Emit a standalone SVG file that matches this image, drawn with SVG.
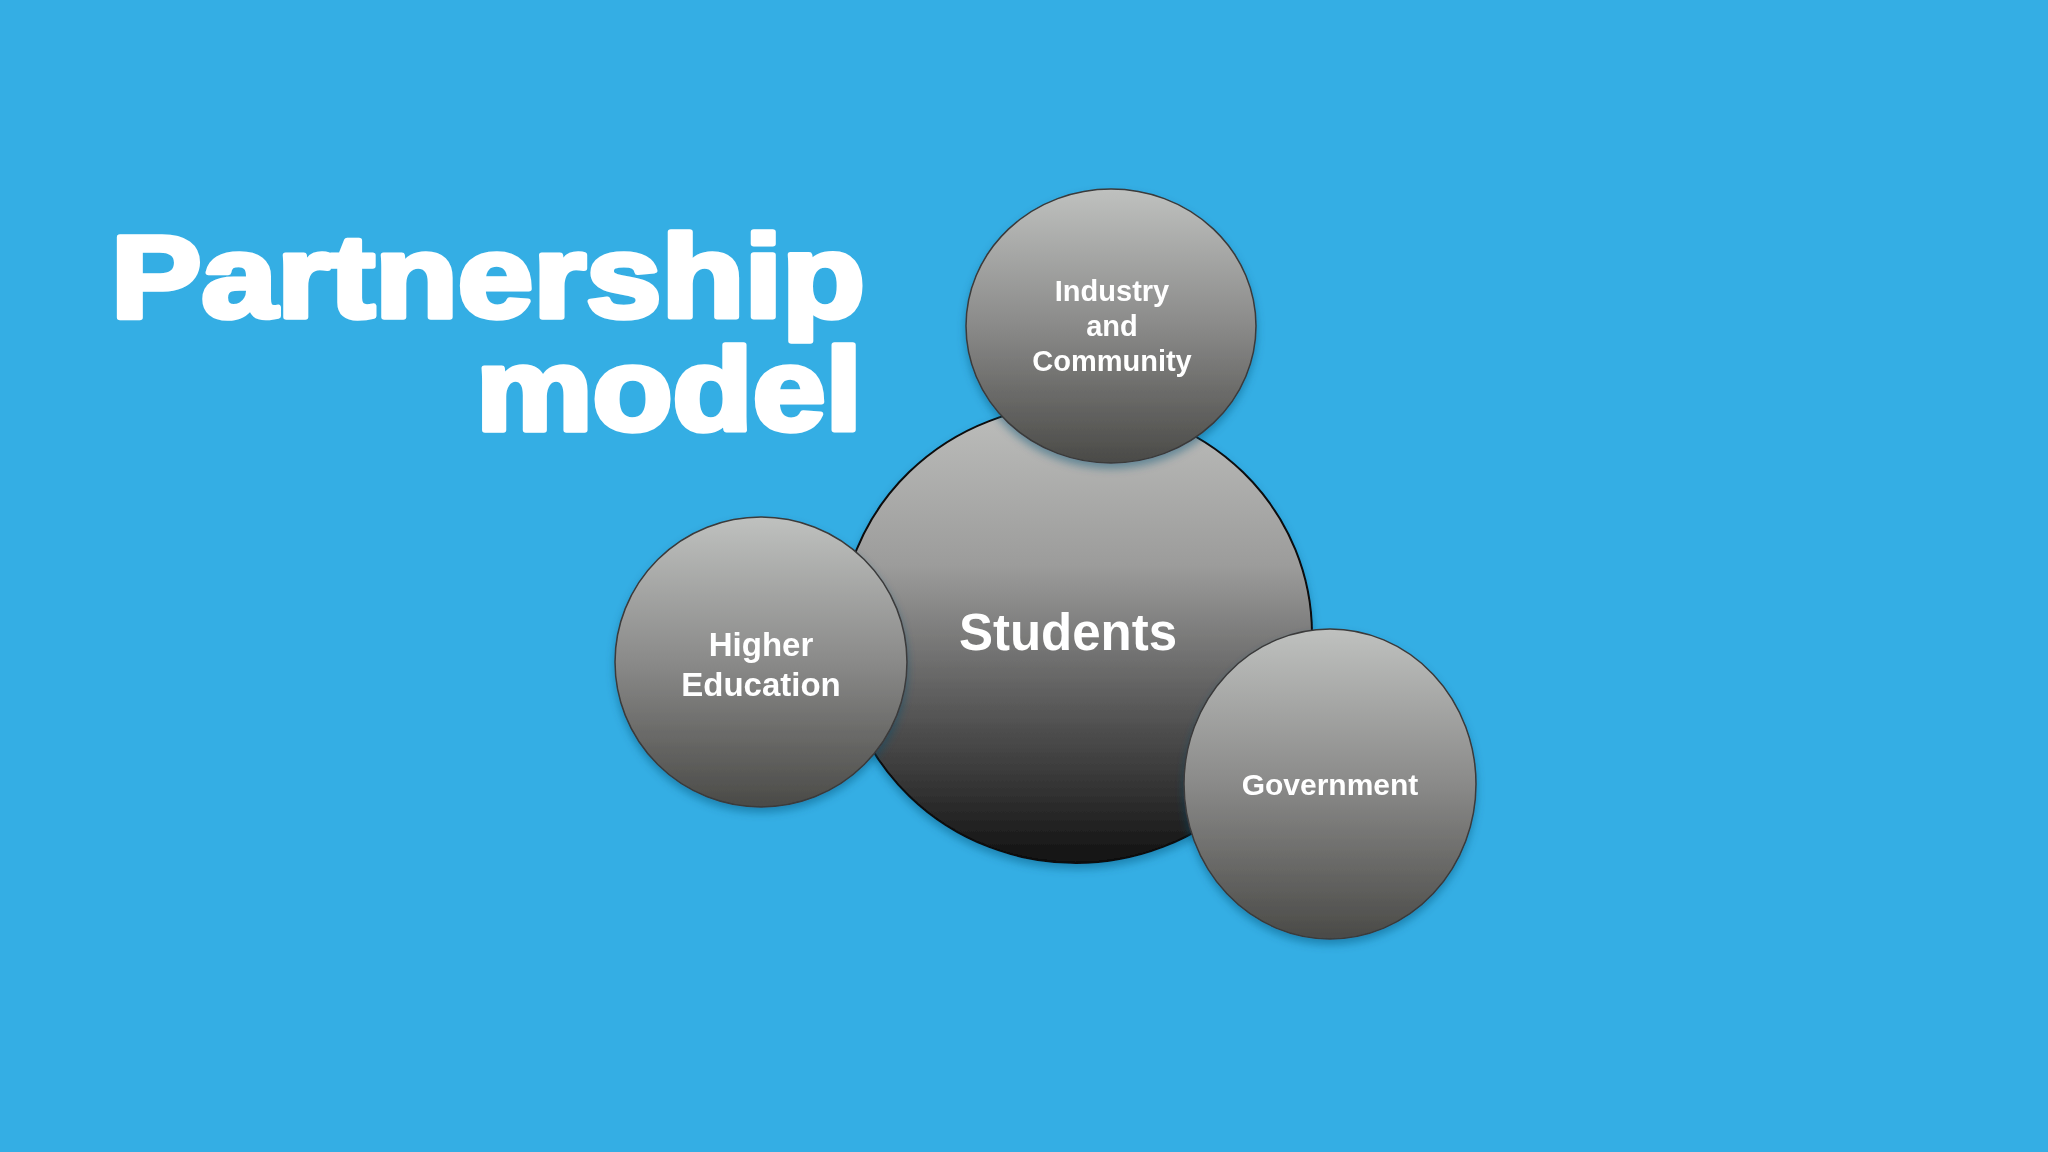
<svg xmlns="http://www.w3.org/2000/svg" width="2048" height="1152" viewBox="0 0 2048 1152">
<defs>
<linearGradient id="gBig" x1="0" y1="0" x2="0" y2="1">
<stop offset="0" stop-color="#bdbebc"/>
<stop offset="0.35" stop-color="#9c9c9b"/>
<stop offset="0.7" stop-color="#505050"/>
<stop offset="1" stop-color="#111111"/>
</linearGradient>
<linearGradient id="gSmall" x1="0" y1="0" x2="0" y2="1">
<stop offset="0" stop-color="#bfc1bf"/>
<stop offset="0.5" stop-color="#8a8a89"/>
<stop offset="1" stop-color="#4a4a47"/>
</linearGradient>
<filter id="shadow" x="-20%" y="-20%" width="140%" height="150%">
<feGaussianBlur in="SourceAlpha" stdDeviation="4"/>
<feOffset dx="0" dy="5" result="b"/>
<feFlood flood-color="#0b4f73" flood-opacity="0.45"/>
<feComposite in2="b" operator="in"/>
<feMerge><feMergeNode/><feMergeNode in="SourceGraphic"/></feMerge>
</filter>
</defs>
<style>
.big{fill:url(#gBig);stroke:#0a0a0a;stroke-width:2}
.small{fill:url(#gSmall);stroke:#3a3a3a;stroke-width:1.5}
.lbl{fill:#ffffff;font-family:"Liberation Sans",Arial,sans-serif;font-weight:bold;text-anchor:middle}
.title{fill:#ffffff;stroke:#ffffff;stroke-width:5.5;stroke-linejoin:round;font-family:"Liberation Sans",Arial,sans-serif;font-weight:bold;text-anchor:end}
</style>
<rect width="2048" height="1152" fill="#34aee4"/>
<g id="title">
<text class="title" x="865" y="317" font-size="117" textLength="754" lengthAdjust="spacingAndGlyphs">Partnership</text>
<text class="title" x="862" y="430" font-size="117" textLength="386" lengthAdjust="spacingAndGlyphs">model</text>
</g>
<g id="connectors"></g>
<g id="students" filter="url(#shadow)">
<ellipse class="big" cx="1076" cy="634" rx="236" ry="229"/>
<text class="lbl" x="1068" y="650" font-size="51">Students</text>
</g>
<g id="industry" filter="url(#shadow)">
<ellipse class="small" cx="1111" cy="326" rx="145" ry="137"/>
<text class="lbl" x="1112" y="301" font-size="29">Industry</text>
<text class="lbl" x="1112" y="336" font-size="29">and</text>
<text class="lbl" x="1112" y="371" font-size="29">Community</text>
</g>
<g id="higher-education" filter="url(#shadow)">
<ellipse class="small" cx="761" cy="662" rx="146" ry="145"/>
<text class="lbl" x="761" y="656" font-size="33">Higher</text>
<text class="lbl" x="761" y="696" font-size="33">Education</text>
</g>
<g id="government" filter="url(#shadow)">
<ellipse class="small" cx="1330" cy="784" rx="146" ry="155"/>
<text class="lbl" x="1330" y="795" font-size="30">Government</text>
</g>
</svg>
